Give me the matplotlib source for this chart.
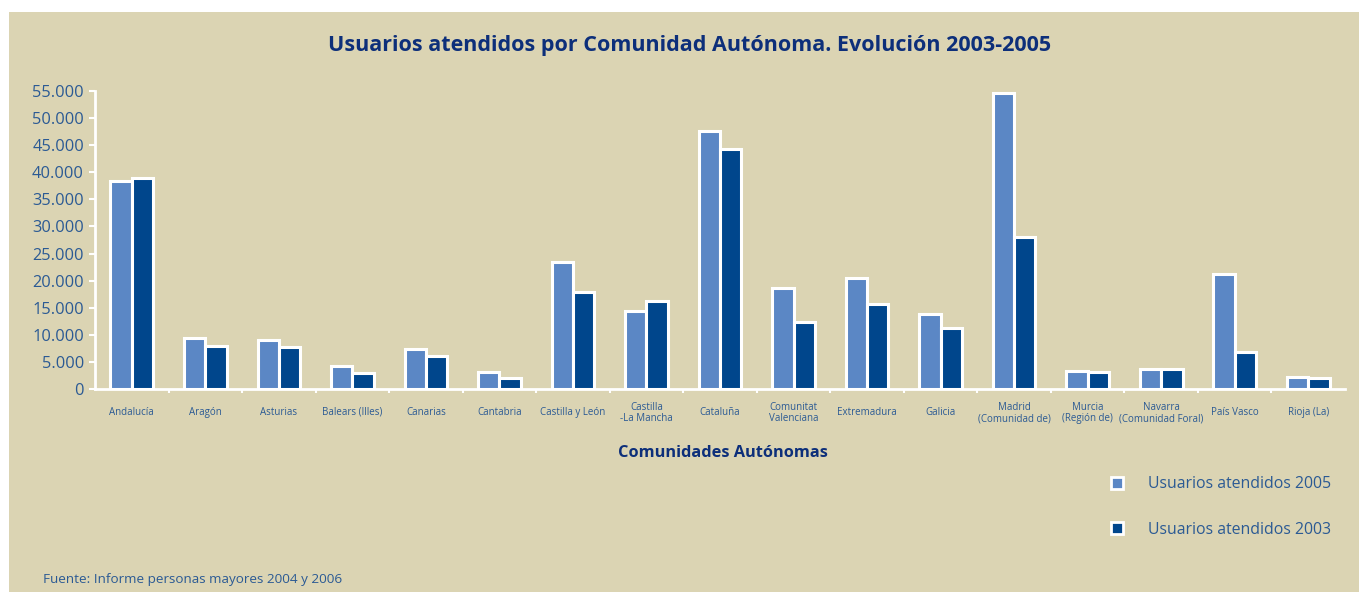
import matplotlib
matplotlib.use("Agg")
import matplotlib.pyplot as plt
import numpy as np
from matplotlib.lines import Line2D

categories = ["Andalucía", "Aragón", "Asturias", "Balears (Illes)", "Canarias",
              "Cantabria", "Castilla y León", "Castilla\n-La Mancha", "Cataluña",
              "Comunitat\nValenciana", "Extremadura", "Galicia",
              "Madrid\n(Comunidad de)", "Murcia\n(Región de)",
              "Navarra\n(Comunidad Foral)", "País Vasco", "Rioja (La)"]
usuarios_2005 = [38300, 9400, 9100, 4300, 7400, 3100, 23500, 14400, 47700,
                 18700, 20400, 13800, 54700, 3400, 3700, 21300, 2300]
usuarios_2003 = [39000, 8000, 7700, 2900, 6000, 2000, 17900, 16300, 44300,
                 12400, 15600, 11300, 28000, 3100, 3700, 6900, 2000]
yticks = list(range(0, 55001, 5000))
ytick_labels = ["0" if v == 0 else f"{v:,}".replace(",", ".") for v in yticks]

BG = "#dbd4b3"
C05 = "#5b87c5"
C03 = "#00468c"
TXT = "#2b5a94"
NAVY = "#0d2f7a"
FONT = ["Open Sans", "DejaVu Sans"]
plt.rcParams["font.family"] = FONT

W, H = 1359, 592
fig = plt.figure(figsize=(W / 100, H / 100), dpi=100)
fig.patch.set_facecolor("white")

bg = fig.add_axes([9 / W, 0, 1 - 9 / W, 1 - 12 / H], zorder=-10)
bg.set_facecolor(BG)
bg.set_xticks([])
bg.set_yticks([])
for s in bg.spines.values():
    s.set_visible(False)

ax = fig.add_axes([95 / W, (H - 389) / H, (1345 - 95) / W, (389 - 91) / H],
                  zorder=1)
ax.set_facecolor("none")
n = len(categories)
x = np.arange(n)
bw = 0.29
ax.bar(x - bw / 2, usuarios_2005, bw, color=C05, edgecolor="white",
       linewidth=2.2, zorder=3)
ax.bar(x + bw / 2, usuarios_2003, bw, color=C03, edgecolor="white",
       linewidth=2.2, zorder=3)
ax.set_xlim(-0.5, n - 0.5)
ax.set_ylim(0, 55000)

for s in ["top", "right"]:
    ax.spines[s].set_visible(False)
for s in ["left", "bottom"]:
    ax.spines[s].set_color("white")
    ax.spines[s].set_linewidth(2)

ax.set_yticks(yticks)
ax.set_yticklabels(ytick_labels)
ax.tick_params(axis="y", colors="white", labelcolor=TXT, labelsize=11.8,
               length=4, width=1.5, pad=4)
ax.set_xticks(x)
ax.set_xticklabels(categories)
ax.tick_params(axis="x", length=0, labelsize=7, labelcolor=TXT, pad=9)
ax.set_xticks(np.arange(0.5, n - 0.5, 1), minor=True)
ax.tick_params(axis="x", which="minor", length=3, width=1.5, colors="white")
for lbl in ax.get_xticklabels():
    lbl.set_linespacing(1.1)
    if "\n" not in lbl.get_text():
        lbl.set_y(-0.017)

fig.text(690 / W, 1 - 45 / H,
         "Usuarios atendidos por Comunidad Autónoma. Evolución 2003-2005",
         ha="center", va="center", fontsize=15.5, fontweight="bold", color=NAVY)
fig.text(723 / W, 1 - 453 / H, "Comunidades Autónomas", ha="center",
         va="center", fontsize=11.8, fontweight="bold", color=NAVY)
fig.text(43 / W, 1 - 579 / H, "Fuente: Informe personas mayores 2004 y 2006",
         ha="left", va="center", fontsize=9.7, color=TXT)

handles = [Line2D([], [], linestyle="none", marker="s", markersize=8,
                  markerfacecolor=C05, markeredgecolor="white",
                  markeredgewidth=2),
           Line2D([], [], linestyle="none", marker="s", markersize=8,
                  markerfacecolor=C03, markeredgecolor="white",
                  markeredgewidth=2)]
leg = fig.legend(handles, ["Usuarios atendidos 2005", "Usuarios atendidos 2003"],
                 loc="upper left", bbox_to_anchor=(1095 / W, 1 - 462 / H),
                 frameon=False, fontsize=11.4, labelspacing=1.85,
                 handletextpad=1.45, handlelength=1.0)
for t in leg.get_texts():
    t.set_color(TXT)

fig.savefig("out.png", dpi=100, facecolor=fig.get_facecolor())
